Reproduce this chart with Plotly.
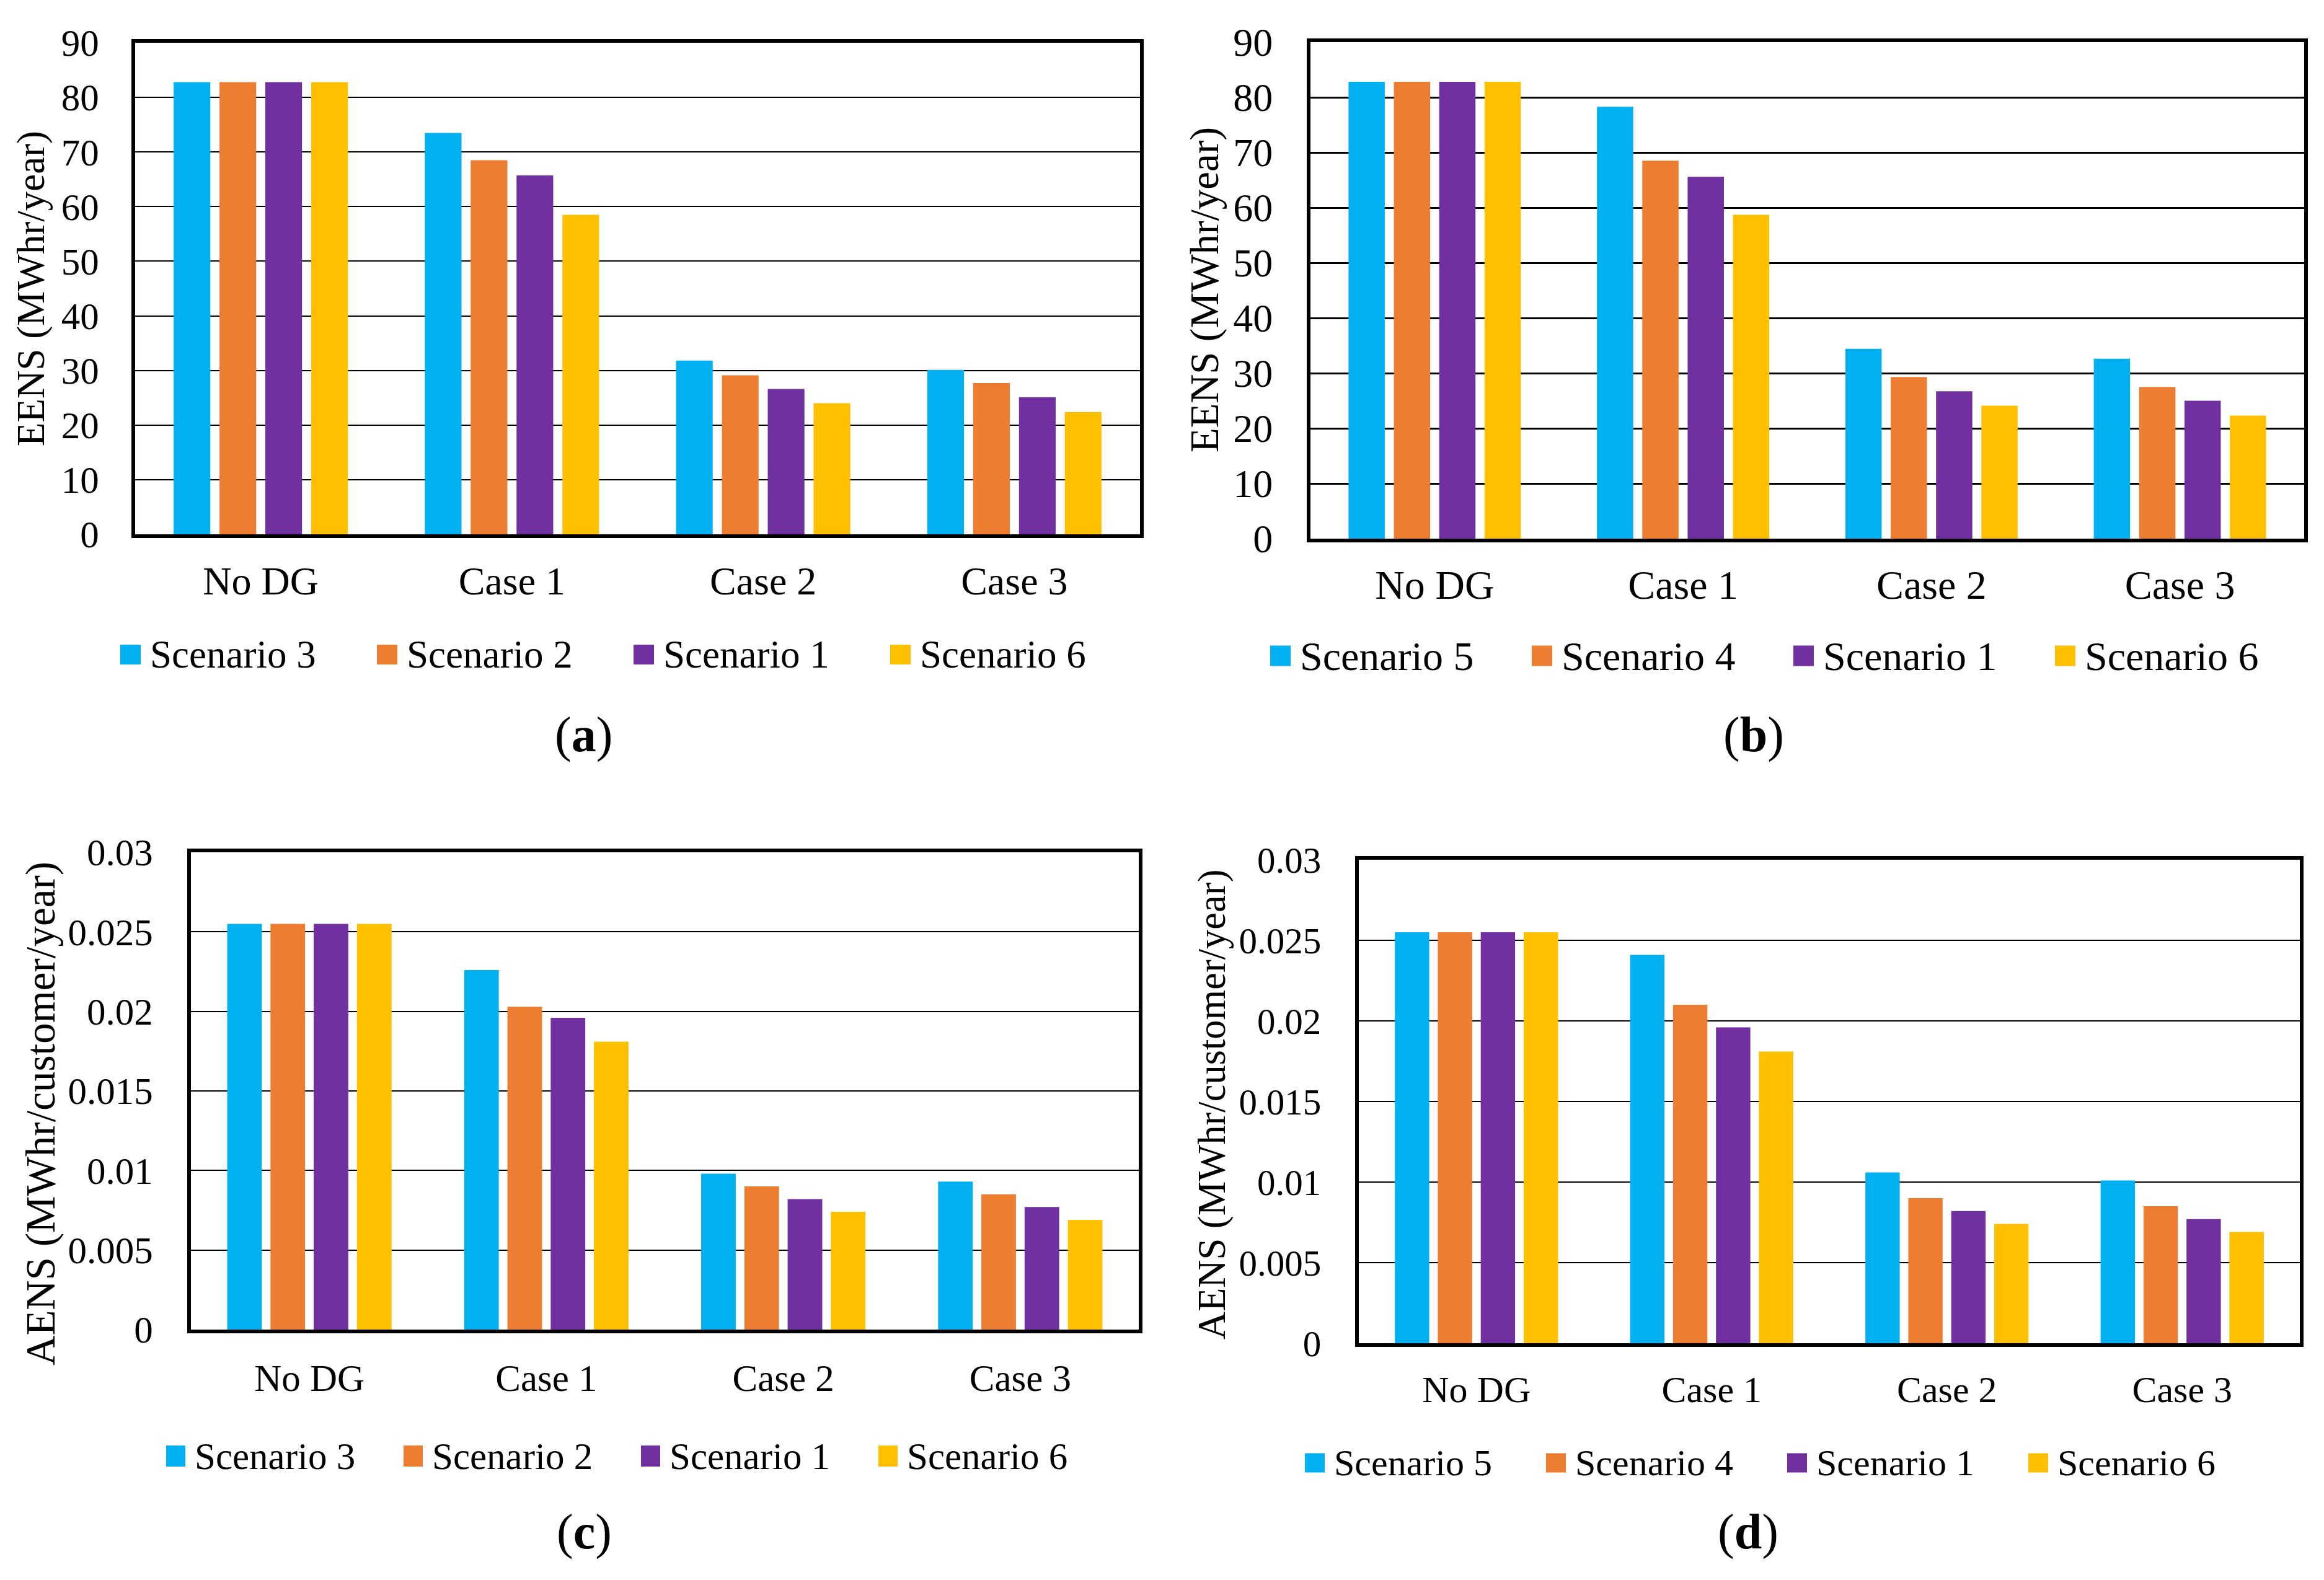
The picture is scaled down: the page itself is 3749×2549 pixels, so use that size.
import plotly.graph_objects as go

W, H = 3749, 2549
FONT = "Liberation Serif"
PAGE_OFFSET = 8  # default body margin of the html page

categories = ["No DG", "Case 1", "Case 2", "Case 3"]
colors = ["#00B0F0", "#ED7D31", "#7030A0", "#FFC000"]

names_a = ["Scenario 3", "Scenario 2", "Scenario 1", "Scenario 6"]
eens_a_s3 = [82.8, 73.5, 31.8, 30.1]
eens_a_s2 = [82.8, 68.5, 29.1, 27.7]
eens_a_s1 = [82.8, 65.7, 26.6, 25.1]
eens_a_s6 = [82.8, 58.5, 24.0, 22.4]

names_b = ["Scenario 5", "Scenario 4", "Scenario 1", "Scenario 6"]
eens_b_s5 = [82.8, 78.3, 34.4, 32.6]
eens_b_s4 = [82.8, 68.5, 29.3, 27.5]
eens_b_s1 = [82.8, 65.6, 26.7, 25.0]
eens_b_s6 = [82.8, 58.7, 24.1, 22.3]

names_c = ["Scenario 3", "Scenario 2", "Scenario 1", "Scenario 6"]
aens_c_s3 = [0.0255, 0.0226, 0.0098, 0.0093]
aens_c_s2 = [0.0255, 0.0203, 0.0090, 0.0085]
aens_c_s1 = [0.0255, 0.0196, 0.0082, 0.0077]
aens_c_s6 = [0.0255, 0.0181, 0.0074, 0.0069]

names_d = ["Scenario 5", "Scenario 4", "Scenario 1", "Scenario 6"]
aens_d_s5 = [0.0255, 0.0241, 0.0106, 0.0101]
aens_d_s4 = [0.0255, 0.0210, 0.0090, 0.0085]
aens_d_s1 = [0.0255, 0.0196, 0.0082, 0.0077]
aens_d_s6 = [0.0255, 0.0181, 0.0074, 0.0069]

eens_ticks = [0, 10, 20, 30, 40, 50, 60, 70, 80, 90]
aens_ticks = [0, 0.005, 0.01, 0.015, 0.02, 0.025, 0.03]
aens_ticktext = ["0", "0.005", "0.01", "0.015", "0.02", "0.025", "0.03"]


def X(px):
    return (px - PAGE_OFFSET) / W


def Y(py):
    return 1 - (py - PAGE_OFFSET) / H


panels = [
    dict(key="", series=[eens_a_s3, eens_a_s2, eens_a_s1, eens_a_s6], names=names_a,
         box=(218, 1839, 69, 862), rng=[0, 90], tickvals=eens_ticks, ticktext=[str(t) for t in eens_ticks],
         title="EENS (MWhr/year)", title_xy=(50, 466), fs_tick=61, fs_cat=64, fs_leg=63, fs_title=63,
         grid=2, ystand=40, xstand=14,
         leg_y=1056, leg_x0=194, leg_dx=414, leg_off=46, leg_sq=(33, 32),
         lab="a", lab_xy=(941, 1186)),
    dict(key="2", series=[eens_b_s5, eens_b_s4, eens_b_s1, eens_b_s6], names=names_b,
         box=(2114, 3717, 68, 869), rng=[0, 90], tickvals=eens_ticks, ticktext=[str(t) for t in eens_ticks],
         title="EENS (MWhr/year)", title_xy=(1943, 468), fs_tick=64, fs_cat=66, fs_leg=66, fs_title=65,
         grid=3, ystand=42, xstand=12,
         leg_y=1058, leg_x0=2049, leg_dx=422, leg_off=46, leg_sq=(33, 33),
         lab="b", lab_xy=(2829, 1186)),
    dict(key="3", series=[aens_c_s3, aens_c_s2, aens_c_s1, aens_c_s6], names=names_c,
         box=(308, 1837, 1375, 2145), rng=[0, 0.03], tickvals=aens_ticks, ticktext=aens_ticktext,
         title="AENS (MWhr/customer/year)", title_xy=(65, 1797), fs_tick=61, fs_cat=61, fs_leg=61, fs_title=67,
         grid=2, ystand=43, xstand=20,
         leg_y=2349, leg_x0=268, leg_dx=383, leg_off=44, leg_sq=(31, 34),
         lab="c", lab_xy=(942, 2471)),
    dict(key="4", series=[aens_d_s5, aens_d_s4, aens_d_s1, aens_d_s6], names=names_d,
         box=(2192, 3710, 1387, 2167), rng=[0, 0.03], tickvals=aens_ticks, ticktext=aens_ticktext,
         title="AENS (MWhr/customer/year)", title_xy=(1955, 1782), fs_tick=59, fs_cat=60, fs_leg=60, fs_title=62.5,
         grid=1.5, ystand=43, xstand=17,
         leg_y=2360, leg_x0=2105, leg_dx=389, leg_off=45, leg_sq=(32, 31),
         lab="d", lab_xy=(2820, 2471)),
]

fig = go.Figure()
layout = dict(width=W, height=H, margin=dict(l=0, r=0, t=0, b=0, pad=0, autoexpand=False),
              paper_bgcolor="white", plot_bgcolor="white", barmode="group",
              bargap=0.27, bargroupgap=0.2, showlegend=False,
              font=dict(family=FONT, color="black"))
shapes = []
annotations = []

for p in panels:
    k = p["key"]
    x0, x1, y0, y1 = p["box"]
    for name, vals, col in zip(p["names"], p["series"], colors):
        fig.add_trace(go.Bar(x=categories, y=vals, name=name, marker=dict(color=col, line=dict(width=0)),
                             xaxis="x" + k, yaxis="y" + k))
    layout["xaxis" + k] = dict(domain=[X(x0), X(x1)], anchor="y" + k, showline=True, linecolor="black",
                               linewidth=6, mirror=True, ticks="", showgrid=False, automargin=False,
                               tickfont=dict(family=FONT, size=p["fs_cat"], color="black"),
                               ticklabelstandoff=p["xstand"])
    layout["yaxis" + k] = dict(domain=[Y(y1), Y(y0)], anchor="x" + k, range=p["rng"],
                               tickvals=p["tickvals"], ticktext=p["ticktext"], automargin=False,
                               showline=True, linecolor="black", linewidth=6, mirror=True, ticks="",
                               showgrid=True, gridcolor="black", gridwidth=p["grid"], zeroline=False,
                               tickfont=dict(family=FONT, size=p["fs_tick"], color="black"),
                               ticklabelstandoff=p["ystand"])
    tx, ty = p["title_xy"]
    annotations.append(dict(text=p["title"], x=X(tx), y=Y(ty), xref="paper", yref="paper",
                            textangle=-90, showarrow=False, xanchor="center", yanchor="middle",
                            font=dict(family=FONT, size=p["fs_title"], color="black")))
    sw, sh = p["leg_sq"]
    for i, (name, col) in enumerate(zip(p["names"], colors)):
        lx = p["leg_x0"] + i * p["leg_dx"]
        ly = p["leg_y"]
        shapes.append(dict(type="rect", xref="paper", yref="paper", x0=X(lx), x1=X(lx + sw),
                           y0=Y(ly + sh / 2), y1=Y(ly - sh / 2), fillcolor=col, line=dict(width=0)))
        annotations.append(dict(text=name, x=X(lx + p["leg_off"]), y=Y(ly), xref="paper", yref="paper",
                                showarrow=False, xanchor="left", yanchor="middle",
                                font=dict(family=FONT, size=p["fs_leg"], color="black")))
    lx, ly = p["lab_xy"]
    annotations.append(dict(text="(<b>" + p["lab"] + "</b>)", x=X(lx), y=Y(ly), xref="paper", yref="paper",
                            showarrow=False, xanchor="center", yanchor="middle",
                            font=dict(family=FONT, size=80, color="black")))

layout["shapes"] = shapes
layout["annotations"] = annotations
fig.update_layout(**layout)
fig.write_html("out.html", config={"responsive": False})
